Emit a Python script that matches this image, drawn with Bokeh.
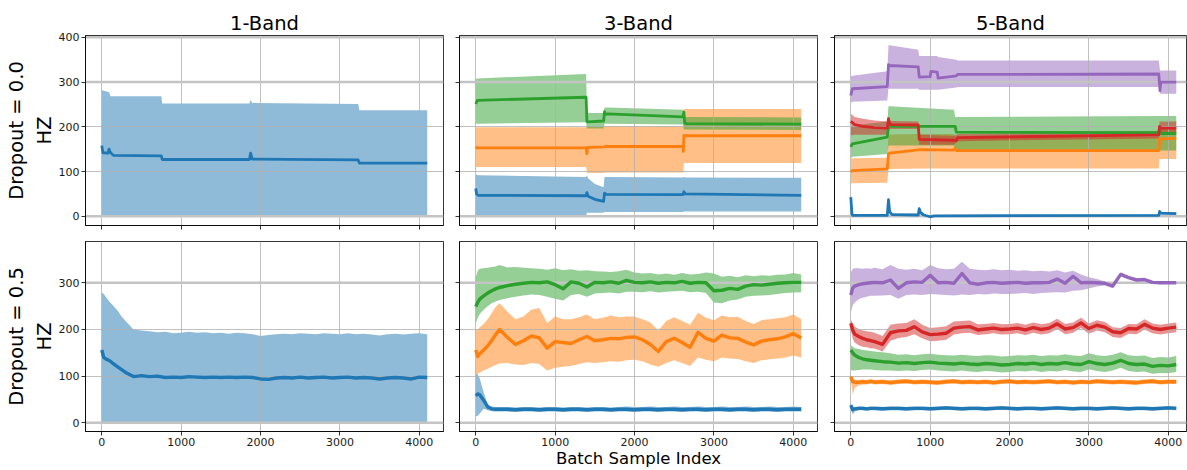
from bokeh.plotting import figure
from bokeh.layouts import column, row
from bokeh.models import Range1d, FixedTicker, Span
from bokeh.embed import file_html
from bokeh.resources import INLINE

FONT = "DejaVu Sans"
BLUE, ORANGE, GREEN, RED, PURPLE = "#1f77b4", "#ff7f0e", "#2ca02c", "#d62728", "#9467bd"

# ---------------- labels / ticks ----------------
BANDS = ["1-Band", "3-Band", "5-Band"]
ROW_LABELS = ["Dropout = 0.0\nHZ", "Dropout = 0.5\nHZ"]
X_LABEL = "Batch Sample Index"
X_TICKS = [0, 1000, 2000, 3000, 4000]
Y_TICKS_TOP = [0, 100, 200, 300, 400]
Y_TICKS_BOTTOM = [0, 100, 200, 300]
REF_LINES = [0, 300, 400]

# ---------------- Dropout = 0.0 (step-like curves) ----------------
# 1-Band
T1_X = [0, 15, 80, 92, 110, 150, 750, 762, 1860, 1875, 1895, 3230, 3245, 4100]
T1_MEAN = [158, 142, 141, 150, 142, 136, 135, 127, 127, 141, 128, 126, 119, 119]
T1_HI = [283, 281, 278, 277, 268, 268, 268, 252, 252, 260, 253, 251, 237, 237]
T1_LO = [2, 2, 3, 3, 3, 3, 3, 3, 3, 3, 3, 3, 3, 3]

# 3-Band
T3B_X = [0, 10, 30, 1390, 1400, 1415, 1500, 1610, 1622, 1640, 2610, 2622, 2640, 4100]
T3B_MEAN = [62, 50, 47, 46, 53, 45, 38, 33.5, 52, 49, 48.6, 55, 50, 47]
T3B_HI = [94, 93, 92, 88, 92, 85, 72, 65, 88, 88, 87, 88, 87, 86]
T3B_LO = [0, 0, 0, 0, 8, 8, 8, 8, 9.5, 9.5, 9.5, 11, 11, 11]

T3O_X = [0, 15, 1390, 1400, 1410, 1620, 1630, 2610, 2615, 2622, 2640, 4100]
T3O_MEAN = [155, 153, 153, 140, 154, 155, 156, 156, 145, 181, 180, 180]
T3O_HI = [199, 199, 199, 200, 201, 201, 201, 201, 201, 240, 240, 240]
T3O_LO = [110, 110, 110, 97, 97, 97, 98, 98, 98, 119, 119, 119]

T3G_X = [0, 20, 1390, 1400, 1410, 1610, 1622, 1632, 1660, 2610, 2622, 2632, 2660, 4100]
T3G_MEAN = [251, 259, 266, 212, 211, 213, 234, 228, 229, 222, 233, 208, 207, 206]
T3G_HI = [307, 308, 318, 231, 231, 231, 243, 243, 243, 238, 222, 222, 222, 221]
T3G_LO = [207, 207, 210, 196, 196, 196, 207, 207, 207, 205, 194, 194, 194, 193]

# 5-Band
T5B_X = [0, 15, 25, 460, 475, 490, 520, 850, 862, 880, 920, 1000, 1050, 3880, 3890, 3905, 4100]
T5B_MEAN = [43, 5, 2, 2, 37, 10, 4, 3, 17, 8, 3, -1, 1, 2, 11, 7, 6]
T5B_HI = [46, 8, 4, 4, 41, 13, 7, 6, 20, 11, 6, 1, 3, 4, 14, 10, 9]
T5B_LO = [40, 2, 0, 0, 33, 7, 1, 0, 14, 5, 0, -3, -1, 0, 8, 4, 3]

T5O_X = [0, 20, 460, 475, 490, 880, 1300, 1315, 1330, 3880, 3890, 3905, 4100]
T5O_MEAN = [99, 102, 106, 140, 141, 149, 148, 152, 147, 147, 173, 173, 174]
T5O_HI = [129, 130, 131, 183, 183, 184, 184, 178, 177, 177, 196, 196, 196]
T5O_LO = [73, 74, 75, 106, 106, 107, 107, 107, 107, 107, 128, 128, 128]

T5G_X = [0, 20, 460, 475, 490, 1300, 1315, 1330, 3880, 3890, 3905, 4100]
T5G_MEAN = [155, 162, 177, 201, 201, 201, 201, 188, 187, 198, 185, 185]
T5G_HI = [200, 203, 212, 246, 246, 238, 222, 222, 224, 224, 224, 224]
T5G_LO = [130, 133, 139, 158, 158, 158, 147, 147, 147, 147, 147, 147]

T5R_X = [0, 50, 150, 300, 460, 475, 490, 520, 850, 862, 1300, 1330, 1345, 3880, 3890, 3905, 4100]
T5R_MEAN = [212, 205, 201, 198, 197, 218, 206, 205, 204, 172, 170, 169, 176, 182, 201, 197, 197]
T5R_HI = [229, 222, 218, 214, 212, 220, 214, 213, 212, 182, 180, 182, 184, 190, 212, 212, 212]
T5R_LO = [181, 182, 182, 182, 182, 190, 195, 195, 195, 160, 160, 165, 168, 174, 188, 188, 188]

T5P_X = [0, 20, 460, 475, 490, 850, 862, 1000, 1010, 1090, 1100, 1330, 1345, 3880, 3895, 3905, 4100]
T5P_MEAN = [270, 285, 290, 339, 337, 334, 311, 312, 324, 322, 309, 314, 317, 318, 281, 300, 300]
T5P_HI = [312, 314, 324, 382, 382, 372, 358, 358, 358, 358, 356, 350, 348, 348, 326, 326, 326]
T5P_LO = [253, 256, 259, 285, 285, 285, 283, 283, 283, 283, 283, 288, 289, 289, 274, 274, 274]

# ---------------- Dropout = 0.5 (noisy curves) ----------------
X_N = [0, 25, 50, 100, 150, 200, 250, 300, 400, 500,
       600, 700, 800, 900, 1000, 1100, 1200, 1300, 1400, 1500,
       1600, 1700, 1800, 1900, 2000, 2100, 2200, 2300, 2400, 2500,
       2600, 2700, 2800, 2900, 3000, 3100, 3200, 3300, 3400, 3500,
       3600, 3700, 3800, 3900, 4000, 4100]

# 1-Band
B1_MEAN = [156, 140, 137, 133, 126, 120, 114, 108, 99, 101,
           99, 100, 97, 98, 97, 99, 98, 97, 98, 97,
           98, 97, 98, 97, 94, 93, 96, 97, 96, 98,
           96, 97, 98, 96, 97, 98, 96, 97, 96, 94,
           96, 97, 96, 94, 98, 97]
B1_HI = [280, 276, 270, 259, 250, 240, 228, 218, 200, 198,
         196, 194, 195, 192, 193, 195, 193, 194, 192, 193,
         191, 193, 192, 190, 186, 188, 190, 191, 190, 192,
         191, 190, 192, 191, 190, 192, 190, 191, 189, 187,
         190, 191, 189, 191, 192, 190]
B1_LO = [1, 1, 2, 2, 1, 2, 2, 1, 2, 2,
         1, 2, 2, 1, 2, 2, 1, 2, 2, 1,
         2, 2, 1, 2, 2, 1, 2, 2, 1, 2,
         2, 1, 2, 2, 1, 2, 2, 1, 2, 2,
         1, 2, 2, 1, 2, 2]

# 3-Band
B3B_MEAN = [58, 62, 60, 48, 34, 30, 29, 29, 29, 28,
            29, 29, 28, 29, 29, 28, 29, 29, 28, 29,
            29, 28, 29, 29, 28, 29, 29, 28, 29, 29,
            28, 29, 29, 28, 29, 29, 28, 29, 29, 28,
            29, 29, 28, 29, 29, 29]
B3B_HI = [105, 104, 95, 65, 40, 35, 34, 34, 34, 33,
          34, 34, 33, 34, 34, 33, 34, 34, 33, 34,
          34, 33, 34, 35, 34, 34, 35, 34, 34, 35,
          34, 34, 35, 34, 34, 35, 34, 34, 35, 34,
          34, 35, 34, 34, 35, 34]
B3B_LO = [14, 15, 20, 30, 27, 25, 24, 24, 24, 23,
          24, 24, 23, 24, 24, 23, 24, 24, 23, 24,
          24, 23, 24, 24, 23, 24, 24, 23, 24, 24,
          23, 24, 24, 23, 24, 24, 23, 24, 24, 23,
          24, 24, 23, 24, 24, 24]

B3O_MEAN = [156, 142, 148, 156, 165, 176, 189, 200, 183, 168,
            176, 186, 182, 160, 174, 172, 170, 178, 185, 176,
            178, 181, 180, 183, 184, 178, 168, 153, 174, 181,
            172, 162, 194, 181, 175, 188, 182, 181, 173, 167,
            175, 178, 180, 184, 191, 182]
B3O_HI = [200, 200, 205, 212, 222, 235, 248, 256, 238, 222,
          228, 242, 246, 214, 228, 222, 222, 226, 232, 222,
          225, 230, 226, 228, 228, 222, 215, 198, 218, 226,
          218, 210, 236, 225, 220, 230, 226, 227, 218, 212,
          220, 222, 224, 226, 232, 222]
B3O_LO = [103, 105, 108, 112, 116, 120, 124, 127, 128, 125,
          124, 128, 126, 112, 118, 120, 122, 126, 130, 128,
          130, 132, 131, 134, 135, 132, 125, 120, 128, 134,
          128, 122, 140, 135, 132, 140, 138, 137, 132, 128,
          134, 136, 138, 140, 144, 140]

B3G_MEAN = [249, 258, 265, 272, 278, 283, 287, 290, 294, 297,
            299, 301, 300, 302, 296, 287, 302, 299, 291, 301,
            300, 302, 299, 305, 301, 300, 302, 299, 301, 300,
            303, 299, 301, 300, 283, 284, 288, 286, 293, 296,
            295, 297, 299, 300, 301, 301]
B3G_HI = [312, 326, 330, 331, 332, 334, 335, 338, 333, 334,
          332, 331, 330, 328, 331, 327, 329, 326, 327, 325,
          324, 323, 325, 328, 322, 320, 321, 318, 320, 317,
          321, 318, 319, 322, 320, 313, 315, 312, 316, 314,
          316, 315, 317, 318, 321, 318]
B3G_LO = [213, 225, 233, 242, 250, 256, 260, 263, 267, 270,
          273, 275, 274, 270, 266, 262, 274, 276, 270, 277,
          278, 279, 277, 281, 281, 280, 282, 279, 281, 282,
          283, 280, 281, 278, 258, 256, 262, 264, 270, 272,
          273, 274, 276, 278, 279, 280]

# 5-Band
B5B_MEAN = [38, 28, 30, 31, 31, 30, 31, 31, 30, 31,
            31, 30, 31, 31, 30, 31, 32, 31, 30, 31,
            31, 30, 31, 32, 31, 30, 31, 31, 30, 31,
            32, 31, 30, 31, 31, 30, 31, 32, 31, 30,
            31, 31, 30, 31, 32, 31]
B5B_HI = [42, 33, 34, 35, 35, 34, 35, 35, 34, 35,
          35, 34, 35, 35, 34, 35, 36, 35, 34, 35,
          35, 34, 35, 36, 35, 34, 35, 35, 34, 35,
          36, 35, 34, 35, 35, 34, 35, 36, 35, 34,
          35, 35, 34, 35, 36, 35]
B5B_LO = [30, 18, 24, 27, 27, 26, 27, 27, 26, 27,
          27, 26, 27, 27, 26, 27, 28, 27, 26, 27,
          27, 26, 27, 28, 27, 26, 27, 27, 26, 27,
          28, 27, 26, 27, 27, 26, 27, 28, 27, 26,
          27, 27, 26, 27, 28, 27]

B5O_MEAN = [99, 88, 87, 87, 88, 87, 89, 87, 88, 86,
            88, 89, 87, 88, 87, 86, 88, 89, 87, 88,
            87, 88, 86, 88, 89, 87, 88, 87, 88, 89,
            87, 88, 86, 88, 87, 89, 88, 87, 88, 87,
            86, 88, 89, 87, 88, 88]
B5O_HI = [103, 95, 93, 92, 93, 92, 94, 92, 93, 91,
          93, 94, 92, 93, 92, 91, 93, 94, 92, 93,
          92, 93, 91, 93, 94, 92, 93, 92, 93, 94,
          92, 93, 91, 93, 92, 94, 93, 92, 93, 92,
          91, 93, 94, 92, 93, 93]
B5O_LO = [95, 60, 75, 80, 82, 82, 84, 82, 83, 81,
          83, 84, 82, 83, 82, 81, 83, 84, 82, 83,
          82, 83, 81, 83, 84, 82, 83, 82, 83, 84,
          82, 83, 81, 83, 82, 84, 83, 82, 83, 82,
          81, 83, 84, 82, 83, 83]

B5G_MEAN = [156, 150, 145, 140, 137, 135, 134, 133, 131, 130,
            128, 129, 127, 129, 130, 128, 127, 126, 128, 126,
            125, 127, 126, 124, 125, 127, 126, 128, 125, 127,
            126, 129, 126, 125, 131, 127, 125, 128, 134, 127,
            125, 126, 121, 123, 122, 125]
B5G_HI = [167, 163, 160, 158, 156, 155, 154, 153, 151, 149,
          146, 147, 145, 147, 148, 146, 145, 144, 146, 144,
          143, 145, 144, 142, 143, 145, 144, 146, 143, 145,
          144, 147, 144, 143, 149, 145, 143, 146, 151, 145,
          143, 144, 139, 141, 140, 143]
B5G_LO = [113, 112, 112, 113, 114, 114, 114, 113, 112, 112,
          111, 112, 111, 113, 114, 112, 111, 110, 112, 110,
          109, 111, 110, 108, 109, 111, 110, 112, 109, 111,
          110, 113, 110, 109, 115, 111, 109, 112, 118, 111,
          109, 110, 105, 107, 106, 109]

B5R_MEAN = [213, 198, 190, 185, 181, 178, 176, 174, 168, 193,
            197, 198, 206, 195, 189, 190, 192, 203, 205, 206,
            199, 201, 203, 200, 201, 203, 199, 204, 200, 203,
            212, 201, 204, 214, 202, 209, 205, 195, 193, 202,
            201, 211, 203, 200, 203, 205]
B5R_HI = [221, 214, 206, 201, 198, 196, 195, 193, 186, 210,
          213, 214, 222, 210, 203, 205, 207, 217, 218, 219,
          211, 212, 214, 211, 212, 214, 210, 215, 211, 214,
          223, 212, 215, 225, 213, 220, 216, 205, 203, 212,
          211, 222, 213, 210, 213, 215]
B5R_LO = [203, 180, 172, 166, 163, 162, 160, 159, 153, 176,
          182, 184, 190, 181, 175, 176, 178, 189, 192, 193,
          188, 190, 192, 189, 190, 192, 188, 193, 189, 192,
          201, 190, 193, 203, 191, 198, 194, 184, 182, 191,
          190, 200, 192, 189, 192, 194]

B5P_MEAN = [274, 289, 293, 296, 298, 299, 300, 301, 300, 306,
            288, 300, 302, 301, 316, 300, 301, 299, 320, 300,
            297, 300, 301, 299, 300, 301, 299, 300, 300, 301,
            308, 299, 314, 300, 301, 300, 299, 293, 318, 311,
            306, 307, 301, 300, 300, 300]
B5P_HI = [322, 330, 331, 331, 330, 331, 330, 332, 329, 338,
          330, 328, 330, 327, 338, 331, 329, 330, 345, 330,
          328, 327, 329, 327, 328, 326, 327, 325, 326, 324,
          327, 322, 326, 318, 312, 308, 303, 297, 322, 314,
          309, 310, 304, 303, 302, 302]
B5P_LO = [236, 252, 258, 265, 268, 270, 272, 272, 273, 274,
          266, 274, 275, 274, 276, 275, 274, 273, 275, 274,
          276, 275, 277, 276, 276, 277, 278, 276, 278, 279,
          280, 279, 283, 284, 288, 292, 294, 289, 314, 308,
          303, 304, 298, 297, 298, 298]

PANELS = {
    (0, 0): [(BLUE, T1_X, T1_MEAN, T1_LO, T1_HI)],
    (0, 1): [(BLUE, T3B_X, T3B_MEAN, T3B_LO, T3B_HI),
             (ORANGE, T3O_X, T3O_MEAN, T3O_LO, T3O_HI),
             (GREEN, T3G_X, T3G_MEAN, T3G_LO, T3G_HI)],
    (0, 2): [(BLUE, T5B_X, T5B_MEAN, T5B_LO, T5B_HI),
             (ORANGE, T5O_X, T5O_MEAN, T5O_LO, T5O_HI),
             (GREEN, T5G_X, T5G_MEAN, T5G_LO, T5G_HI),
             (RED, T5R_X, T5R_MEAN, T5R_LO, T5R_HI),
             (PURPLE, T5P_X, T5P_MEAN, T5P_LO, T5P_HI)],
    (1, 0): [(BLUE, X_N, B1_MEAN, B1_LO, B1_HI)],
    (1, 1): [(BLUE, X_N, B3B_MEAN, B3B_LO, B3B_HI),
             (ORANGE, X_N, B3O_MEAN, B3O_LO, B3O_HI),
             (GREEN, X_N, B3G_MEAN, B3G_LO, B3G_HI)],
    (1, 2): [(BLUE, X_N, B5B_MEAN, B5B_LO, B5B_HI),
             (ORANGE, X_N, B5O_MEAN, B5O_LO, B5O_HI),
             (GREEN, X_N, B5G_MEAN, B5G_LO, B5G_HI),
             (RED, X_N, B5R_MEAN, B5R_LO, B5R_HI),
             (PURPLE, X_N, B5P_MEAN, B5P_LO, B5P_HI)],
}


def make_panel(r, c):
    fw = [358, 358, 352][c]
    ml = [85, 15, 16][c]
    mt = 35 if r == 0 else 1
    mb = 15 if r == 0 else 39
    xr = Range1d(-205, 4305) if c < 2 else Range1d(-205, 4229)
    yr = Range1d(-20.5, 404) if r == 0 else Range1d(-18.6, 388.5)
    p = figure(frame_width=fw, frame_height=190, x_range=xr, y_range=yr,
               min_border_left=ml, min_border_right=1, min_border_top=mt,
               min_border_bottom=mb, toolbar_location=None, output_backend="svg",
               background_fill_color="white", border_fill_color="white")
    p.outline_line_color = "black"
    p.outline_line_width = 0.8
    p.xaxis.ticker = FixedTicker(ticks=X_TICKS)
    p.yaxis.ticker = FixedTicker(ticks=Y_TICKS_TOP if r == 0 else Y_TICKS_BOTTOM)
    for ax in (p.xaxis[0], p.yaxis[0]):
        ax.major_tick_out = 4
        ax.major_tick_in = 0
        ax.minor_tick_out = 0
        ax.minor_tick_in = 0
        ax.major_tick_line_width = 0.8
        ax.axis_line_width = 0.8
        ax.major_label_text_font = FONT
        ax.major_label_text_font_size = "11px"
        ax.major_label_text_color = "#1a1a1a"
        ax.major_label_standoff = 2
    if r == 0:
        # tick marks only, no tick labels (shared x axis)
        p.xaxis.major_label_text_font_size = "1px"
        p.xaxis.major_label_text_color = None
        p.title.text = BANDS[c]
        p.title.align = "center"
        p.title.text_font = FONT
        p.title.text_font_size = "19.5px"
        p.title.text_font_style = "normal"
        p.title.text_color = "black"
        p.title.standoff = 2
    if c > 0:
        # tick marks only, no tick labels (shared y axis)
        p.yaxis.major_label_text_font_size = "1px"
        p.yaxis.major_label_text_color = None
    else:
        p.yaxis.axis_label = ROW_LABELS[r]
        p.yaxis.axis_label_text_font = FONT
        p.yaxis.axis_label_text_font_size = "19.5px"
        p.yaxis.axis_label_text_font_style = "normal"
        p.yaxis.axis_label_text_color = "black"
        p.yaxis.axis_label_standoff = 0
    if r == 1 and c == 1:
        p.xaxis.axis_label = X_LABEL
        p.xaxis.axis_label_text_font = FONT
        p.xaxis.axis_label_text_font_size = "16.5px"
        p.xaxis.axis_label_text_font_style = "normal"
        p.xaxis.axis_label_text_color = "black"
        p.xaxis.axis_label_standoff = 0
    for g in (p.xgrid[0], p.ygrid[0]):
        g.grid_line_color = "#b0b0b0"
        g.grid_line_width = 0.8
    for y in REF_LINES:
        p.add_layout(Span(location=y, dimension="width", line_color="#c4c4c4",
                          line_width=2.5, level="underlay"))
    series = PANELS[(r, c)]
    lw = 2.8 if r == 0 else 3.4
    for color, xs, m, lo, hi in series:
        p.varea(x=xs, y1=lo, y2=hi, fill_color=color, fill_alpha=0.5, level="image")
    for color, xs, m, lo, hi in series:
        p.line(x=xs, y=m, line_color=color, line_width=lw, line_join="round")
    return p


rows = [row(*[make_panel(r, c) for c in range(3)]) for r in range(2)]
layout = column(*rows)
open("out.html", "w").write(file_html(layout, INLINE))
